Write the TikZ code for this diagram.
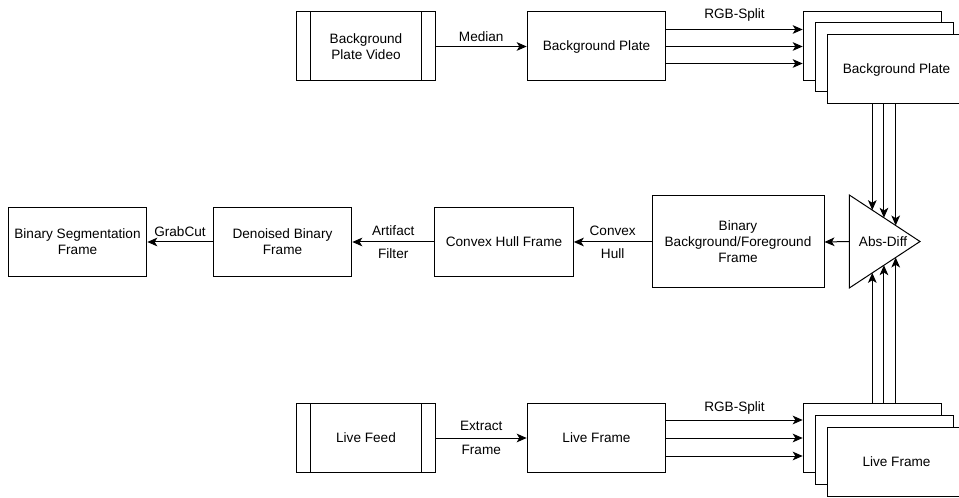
\documentclass[tikz,border=0pt]{standalone}
\usepackage{fontspec}
\setmainfont{Liberation Sans}
\usetikzlibrary{arrows.meta,calc}
\begin{document}
\begin{tikzpicture}[x=0.75pt,y=-0.75pt,
  font=\fontsize{10.2pt}{12pt}\selectfont,
  box/.style={draw, line width=0.75pt, minimum width=104pt, minimum height=51.75pt, inner sep=1pt, align=center, fill=white},
  arr/.style={draw, line width=0.75pt, -{Stealth[length=7.5pt,width=6.5pt,inset=2pt]}},
  lbl/.style={inner sep=0pt, align=center},
  pline/.style={draw, line width=0.75pt}]
\useasboundingbox (0,0) rectangle (959,498);

% ---------- top row ----------
\node[box] (bpv) at (366,46.5) {Background\\Plate Video};
\draw[pline] ([xshift=10.5pt]bpv.north west) -- ([xshift=10.5pt]bpv.south west);
\draw[pline] ([xshift=-10.5pt]bpv.north east) -- ([xshift=-10.5pt]bpv.south east);
\node[box] (bp) at (596.5,46.5) {Background Plate};
\draw[arr] (bpv.east) -- (bp.west) node[lbl, midway, yshift=7.5pt] (lmed) {Median};

\node[box] (bga) at (872.5,46.5) {};
\node[box] (bgb) at (884.5,57.5) {};
\node[box] (bgc) at (896.5,69.5) {Background Plate};
\draw[arr] ([yshift=12.75pt]bp.east) -- ([yshift=12.75pt]bga.west) node[lbl, midway, yshift=11.25pt] (lrgb1) {RGB-Split};
\draw[arr] (bp.east) -- (bga.west);
\draw[arr] ([yshift=-12.75pt]bp.east) -- ([yshift=-12.75pt]bga.west);

% ---------- Abs-Diff triangle ----------
\coordinate (tl) at (849.3,195);
\coordinate (tb) at (849.3,288);
\coordinate (ta) at (920,241.5);
\coordinate (tm) at ($(tl)!0.5!(tb)$);
\draw[pline, fill=white] (tl) -- (ta) -- (tb) -- cycle;
\node[lbl] (ad) at (883,242) {Abs-Diff};
\coordinate (u1) at ($(tl)!0.325!(ta)$);
\coordinate (u2) at ($(tl)!0.49!(ta)$);
\coordinate (u3) at ($(tl)!0.656!(ta)$);
\coordinate (d1) at ($(tb)!0.325!(ta)$);
\coordinate (d2) at ($(tb)!0.49!(ta)$);
\coordinate (d3) at ($(tb)!0.656!(ta)$);
\draw[arr] (bgc.south -| u1) -- (u1);
\draw[arr] (bgc.south -| u2) -- (u2);
\draw[arr] (bgc.south -| u3) -- (u3);

% ---------- middle row ----------
\node[box, minimum width=129pt, minimum height=69pt] (bin) at (738,242) {Binary\\Background/Foreground\\Frame};
\draw[arr] (tm) -- (bin.east);
\node[box] (chf) at (504,242) {Convex Hull Frame};
\draw[arr] (bin.west) -- (chf.east) node[lbl, midway] (lcvx) {Convex\\[5.5pt]Hull};
\node[box] (dbf) at (282.5,242) {Denoised Binary\\Frame};
\draw[arr] (chf.west) -- (dbf.east) node[lbl, midway] (lart) {Artifact\\[5.5pt]Filter};
\node[box] (bsf) at (77.5,242) {Binary Segmentation\\Frame};
\draw[arr] (dbf.west) -- (bsf.east) node[lbl, midway, yshift=7.5pt] (lgc) {GrabCut};

% ---------- bottom row ----------
\node[box] (lf) at (366,438) {Live Feed};
\draw[pline] ([xshift=10.5pt]lf.north west) -- ([xshift=10.5pt]lf.south west);
\draw[pline] ([xshift=-10.5pt]lf.north east) -- ([xshift=-10.5pt]lf.south east);
\node[box] (lfr) at (596.5,438) {Live Frame};
\draw[arr] (lf.east) -- (lfr.west) node[lbl, midway] (lext) {Extract\\[5.5pt]Frame};

\node[box] (lfa) at (872.5,438) {};
\node[box] (lfb) at (884.5,449.5) {};
\node[box] (lfc) at (896.5,461.5) {Live Frame};
\draw[arr] ([yshift=13.5pt]lfr.east) -- ([yshift=13.5pt]lfa.west) node[lbl, midway, yshift=9pt] (lrgb2) {RGB-Split};
\draw[arr] (lfr.east) -- (lfa.west);
\draw[arr] ([yshift=-13.5pt]lfr.east) -- ([yshift=-13.5pt]lfa.west);

\draw[arr] (lfa.north -| d1) -- (d1);
\draw[arr] (lfa.north -| d2) -- (d2);
\draw[arr] (lfa.north -| d3) -- (d3);
\end{tikzpicture}
\end{document}
